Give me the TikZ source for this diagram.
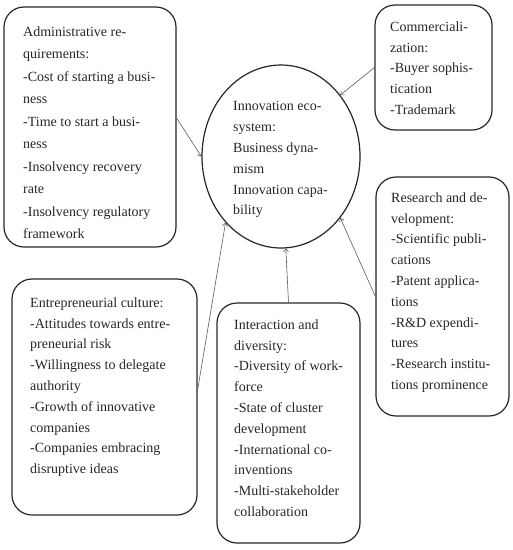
\documentclass[tikz,border=0pt]{standalone}
\usepackage{fontspec}
\setmainfont{Liberation Serif}
\usetikzlibrary{arrows.meta,shapes.geometric,calc}
\begin{document}
\begin{tikzpicture}[x=1pt,y=-1pt,
  box/.style={draw=black!85, line width=1.2pt, rounded corners=20pt, inner sep=0pt, rectangle},
  txt/.style={anchor=north west, inner sep=0pt, align=left, text=black!85, font=\fontsize{14}{20.8}\selectfont},
  arr/.style={draw=black!65, line width=0.6pt, -{Straight Barb[length=3pt,width=5pt]}}
]
\useasboundingbox (0,0) rectangle (513,550);
% boxes
\node[box, minimum width=172pt, minimum height=240pt] (admin) at (90,127) {};
\node[box, minimum width=117pt, minimum height=125pt] (comm) at (433.5,67.5) {};
\node[box, minimum width=133pt, minimum height=239pt] (res) at (442.5,296.5) {};
\node[box, minimum width=143pt, minimum height=240pt] (inter) at (288.5,423) {};
\node[box, minimum width=185pt, minimum height=236pt] (entre) at (104.5,397) {};
\node[draw=black!85, line width=1.2pt, ellipse, minimum width=158pt, minimum height=183pt, inner sep=0pt] (eco) at (281,156.5) {};
% texts
\node[txt, font=\fontsize{14}{22.5}\selectfont] (admintxt) at (23,26.4) {Administrative re-\\quirements:\\-Cost of starting a busi-\\ness\\-Time to start a busi-\\ness\\-Insolvency recovery\\rate\\-Insolvency regulatory\\framework};
\node[txt] (commtxt) at (390,21.4) {Commerciali-\\zation:\\-Buyer sophis-\\tication\\-Trademark};
\node[txt] (ecotxt) at (233,101.4) {Innovation eco-\\system:\\Business dyna-\\mism\\Innovation capa-\\bility};
\node[txt] (restxt) at (391,192.4) {Research and de-\\velopment:\\-Scientific publi-\\cations\\-Patent applica-\\tions\\-R\&D expendi-\\tures\\-Research institu-\\tions prominence};
\node[txt] (intertxt) at (234,319.4) {Interaction and\\diversity:\\-Diversity of work-\\force\\-State of cluster\\development\\-International co-\\inventions\\-Multi-stakeholder\\collaboration};
\node[txt] (entretxt) at (30,297.4) {Entrepreneurial culture:\\-Attitudes towards entre-\\preneurial risk\\-Willingness to delegate\\authority\\-Growth of innovative\\companies\\-Companies embracing\\disruptive ideas};
% arrows
\draw[arr] ([yshift=9pt]admin.east) -- (eco.west);
\draw[arr] (comm.west) -- (eco.46);
\draw[arr] (res.west) -- (eco.-46);
\draw[arr] (inter.north) -- (eco.-87);
\draw[arr] ([yshift=7pt]entre.east) -- (eco.230);
\end{tikzpicture}
\end{document}
